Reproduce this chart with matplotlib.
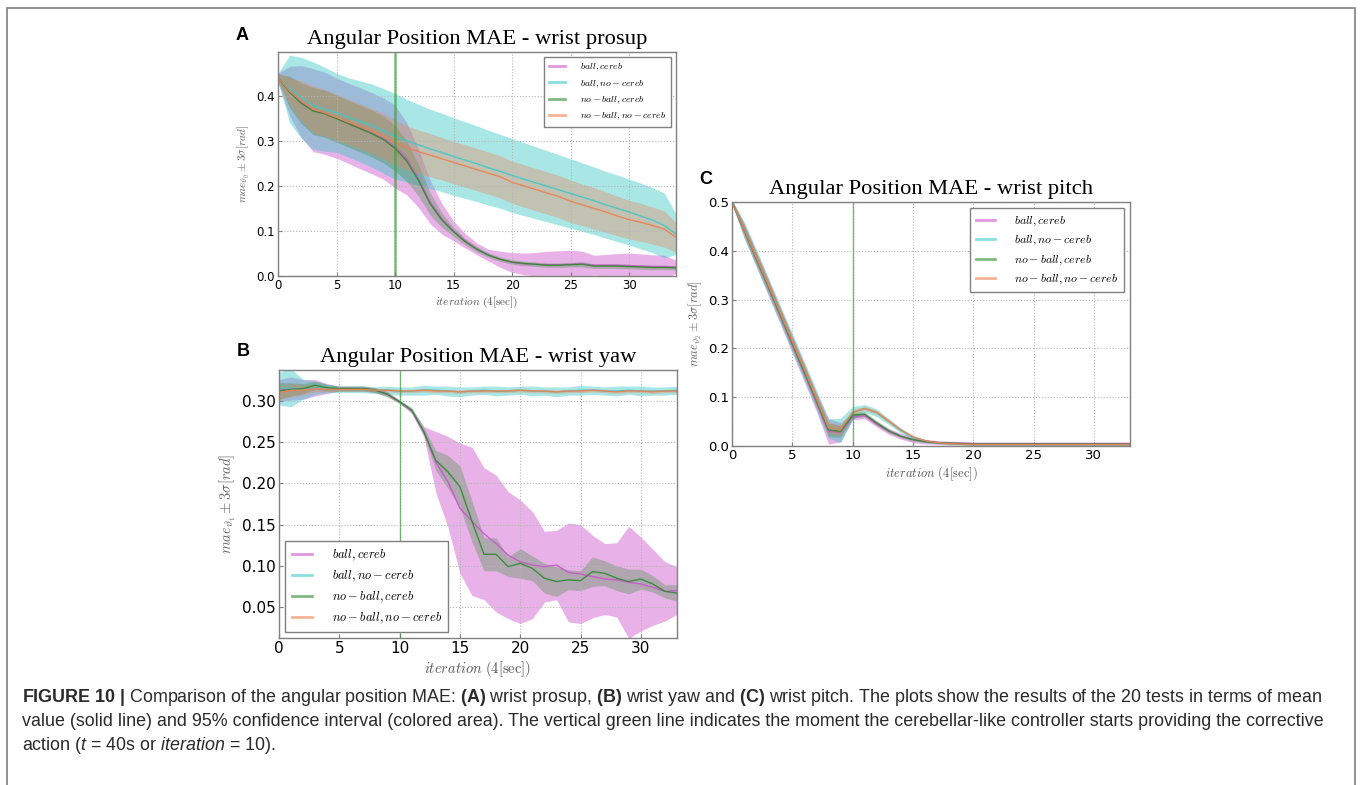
import matplotlib
matplotlib.use("Agg")
import matplotlib.pyplot as plt
from matplotlib.lines import Line2D
from matplotlib.patches import Rectangle

plt.rcParams["mathtext.fontset"] = "cm"
plt.rcParams["mathtext.rm"] = "Liberation Sans"
plt.rcParams["mathtext.it"] = "Liberation Sans:italic"
plt.rcParams["mathtext.bf"] = "Liberation Sans:bold"

labels = [r"$ball, cereb$", r"$ball, no-cereb$", r"$no-ball, cereb$", r"$no-ball, no-cereb$"]
colors = ["#cc55cc", "#40c8c8", "#2e8b2e", "#f08050"]
fill_alpha = [0.45, 0.45, 0.3, 0.35]

# ---- panel A: wrist prosup (iterations 0..34), mean and 3-sigma half width
a_x = list(range(35))
a_ball_cereb = [0.440, 0.410, 0.387, 0.368, 0.361, 0.350, 0.339, 0.328, 0.317, 0.305, 0.287, 0.260,
                0.217, 0.164, 0.127, 0.100, 0.078, 0.060, 0.046, 0.037, 0.030, 0.027, 0.026, 0.025,
                0.025, 0.026, 0.027, 0.024, 0.024, 0.024, 0.023, 0.022, 0.021, 0.021, 0.020]
a_ball_cereb_3s = [0.010, 0.055, 0.080, 0.092, 0.091, 0.089, 0.089, 0.090, 0.090, 0.090, 0.092, 0.080,
                   0.065, 0.048, 0.034, 0.022, 0.016, 0.013, 0.013, 0.018, 0.022, 0.024, 0.026, 0.030,
                   0.031, 0.031, 0.028, 0.022, 0.024, 0.026, 0.028, 0.027, 0.026, 0.025, 0.015]
a_ball_nocereb = [0.440, 0.415, 0.395, 0.378, 0.370, 0.362, 0.352, 0.343, 0.334, 0.322, 0.310, 0.300,
                  0.291, 0.282, 0.274, 0.265, 0.257, 0.249, 0.240, 0.232, 0.223, 0.215, 0.207, 0.199,
                  0.191, 0.183, 0.175, 0.167, 0.158, 0.150, 0.142, 0.133, 0.124, 0.112, 0.093]
a_ball_nocereb_3s = [0.010, 0.075, 0.090, 0.097, 0.093, 0.088, 0.088, 0.090, 0.092, 0.094, 0.095, 0.092,
                     0.090, 0.088, 0.087, 0.086, 0.085, 0.084, 0.083, 0.082, 0.082, 0.081, 0.080, 0.079,
                     0.078, 0.077, 0.076, 0.075, 0.074, 0.074, 0.073, 0.073, 0.072, 0.072, 0.045]
a_noball_cereb = [0.440, 0.408, 0.383, 0.366, 0.360, 0.349, 0.338, 0.327, 0.316, 0.303, 0.283, 0.255,
                  0.212, 0.160, 0.124, 0.098, 0.076, 0.059, 0.046, 0.037, 0.031, 0.028, 0.026, 0.024,
                  0.024, 0.025, 0.026, 0.022, 0.022, 0.022, 0.021, 0.020, 0.019, 0.019, 0.018]
a_noball_cereb_3s = [0.008, 0.035, 0.045, 0.052, 0.052, 0.052, 0.052, 0.052, 0.052, 0.052, 0.050, 0.045,
                     0.035, 0.025, 0.016, 0.010, 0.007, 0.006, 0.005, 0.005, 0.005, 0.005, 0.005, 0.005,
                     0.005, 0.005, 0.006, 0.005, 0.005, 0.005, 0.005, 0.005, 0.005, 0.005, 0.005]
a_noball_nocereb = [0.440, 0.410, 0.388, 0.370, 0.362, 0.352, 0.342, 0.332, 0.322, 0.310, 0.296, 0.285,
                    0.276, 0.268, 0.260, 0.252, 0.244, 0.236, 0.228, 0.220, 0.208, 0.200, 0.192, 0.184,
                    0.176, 0.166, 0.158, 0.150, 0.142, 0.133, 0.125, 0.119, 0.112, 0.104, 0.086]
a_noball_nocereb_3s = [0.010, 0.030, 0.045, 0.052, 0.052, 0.051, 0.050, 0.050, 0.050, 0.050, 0.050, 0.049,
                       0.048, 0.048, 0.047, 0.047, 0.047, 0.047, 0.047, 0.047, 0.047, 0.047, 0.047, 0.047,
                       0.047, 0.047, 0.046, 0.046, 0.045, 0.044, 0.043, 0.042, 0.041, 0.040, 0.033]

# ---- panel B: wrist yaw (iterations 0..33)
b_x = list(range(34))
b_ball_cereb = [0.313, 0.315, 0.314, 0.316, 0.315, 0.315, 0.315, 0.315, 0.313, 0.308, 0.299, 0.288,
                0.263, 0.226, 0.202, 0.170, 0.154, 0.139, 0.127, 0.113, 0.105, 0.101, 0.099, 0.101,
                0.092, 0.090, 0.087, 0.084, 0.083, 0.080, 0.078, 0.074, 0.069, 0.070]
b_ball_cereb_3s = [0.013, 0.014, 0.012, 0.010, 0.006, 0.003, 0.003, 0.003, 0.003, 0.003, 0.002, 0.003,
                   0.006, 0.037, 0.055, 0.079, 0.090, 0.080, 0.083, 0.077, 0.075, 0.065, 0.043, 0.042,
                   0.060, 0.060, 0.050, 0.043, 0.045, 0.068, 0.057, 0.046, 0.036, 0.029]
b_ball_nocereb = [0.315, 0.316, 0.314, 0.316, 0.315, 0.314, 0.314, 0.314, 0.313, 0.313, 0.312, 0.312,
                  0.313, 0.313, 0.312, 0.311, 0.312, 0.313, 0.312, 0.312, 0.313, 0.312, 0.312, 0.311,
                  0.312, 0.313, 0.313, 0.312, 0.312, 0.313, 0.312, 0.312, 0.312, 0.313]
b_ball_nocereb_3s = [0.020, 0.023, 0.012, 0.008, 0.005, 0.004, 0.004, 0.004, 0.004, 0.005, 0.005, 0.005,
                     0.006, 0.005, 0.006, 0.006, 0.005, 0.005, 0.006, 0.005, 0.005, 0.006, 0.005, 0.006,
                     0.005, 0.006, 0.005, 0.005, 0.006, 0.005, 0.006, 0.005, 0.005, 0.005]
b_noball_cereb = [0.312, 0.314, 0.315, 0.319, 0.316, 0.315, 0.315, 0.315, 0.313, 0.308, 0.299, 0.289,
                  0.263, 0.228, 0.214, 0.196, 0.154, 0.114, 0.114, 0.099, 0.103, 0.097, 0.085, 0.081,
                  0.083, 0.082, 0.093, 0.091, 0.085, 0.081, 0.084, 0.078, 0.069, 0.067]
b_noball_cereb_3s = [0.010, 0.008, 0.006, 0.005, 0.004, 0.003, 0.003, 0.003, 0.003, 0.003, 0.002, 0.003,
                     0.005, 0.012, 0.020, 0.025, 0.025, 0.020, 0.020, 0.012, 0.018, 0.015, 0.018, 0.018,
                     0.012, 0.012, 0.018, 0.015, 0.015, 0.015, 0.012, 0.010, 0.008, 0.010]
b_noball_nocereb = [0.310, 0.313, 0.313, 0.315, 0.314, 0.314, 0.314, 0.314, 0.313, 0.313, 0.312, 0.312,
                    0.313, 0.312, 0.312, 0.311, 0.312, 0.312, 0.312, 0.312, 0.313, 0.312, 0.312, 0.311,
                    0.312, 0.312, 0.313, 0.312, 0.311, 0.312, 0.312, 0.311, 0.312, 0.312]
b_noball_nocereb_3s = [0.008, 0.008, 0.006, 0.004, 0.003, 0.002, 0.002, 0.002, 0.002, 0.002, 0.002, 0.002,
                       0.002, 0.002, 0.002, 0.002, 0.002, 0.002, 0.002, 0.002, 0.002, 0.002, 0.002, 0.002,
                       0.002, 0.002, 0.002, 0.002, 0.002, 0.002, 0.002, 0.002, 0.002, 0.002]

# ---- panel C: wrist pitch (iterations 0..33)
c_x = list(range(34))
c_ball_cereb = [0.500, 0.442, 0.384, 0.326, 0.267, 0.208, 0.149, 0.090, 0.030, 0.028, 0.060, 0.062,
                0.045, 0.030, 0.020, 0.013, 0.009, 0.007, 0.006, 0.006, 0.005, 0.005, 0.005, 0.005,
                0.005, 0.005, 0.005, 0.005, 0.005, 0.005, 0.005, 0.005, 0.005, 0.005]
c_ball_cereb_3s = [0.004, 0.015, 0.016, 0.017, 0.017, 0.018, 0.018, 0.019, 0.026, 0.020, 0.006, 0.006,
                   0.006, 0.006, 0.006, 0.006, 0.005, 0.004, 0.004, 0.003, 0.003, 0.003, 0.003, 0.003,
                   0.003, 0.003, 0.003, 0.003, 0.003, 0.003, 0.003, 0.003, 0.003, 0.003]
c_ball_nocereb = [0.500, 0.443, 0.386, 0.328, 0.270, 0.212, 0.154, 0.095, 0.036, 0.032, 0.068, 0.077,
                  0.068, 0.050, 0.032, 0.018, 0.010, 0.007, 0.005, 0.004, 0.003, 0.003, 0.003, 0.003,
                  0.003, 0.003, 0.003, 0.003, 0.003, 0.003, 0.003, 0.003, 0.003, 0.003]
c_ball_nocereb_3s = [0.005, 0.017, 0.018, 0.018, 0.018, 0.019, 0.019, 0.020, 0.020, 0.025, 0.013, 0.008,
                     0.008, 0.006, 0.005, 0.004, 0.003, 0.002, 0.002, 0.002, 0.002, 0.002, 0.002, 0.002,
                     0.002, 0.002, 0.002, 0.002, 0.002, 0.002, 0.002, 0.002, 0.002, 0.002]
c_noball_cereb = [0.500, 0.443, 0.385, 0.327, 0.269, 0.210, 0.152, 0.093, 0.033, 0.030, 0.063, 0.065,
                  0.047, 0.031, 0.020, 0.013, 0.009, 0.007, 0.006, 0.005, 0.004, 0.004, 0.004, 0.004,
                  0.004, 0.004, 0.004, 0.004, 0.004, 0.004, 0.004, 0.004, 0.004, 0.004]
c_noball_cereb_3s = [0.003, 0.010, 0.011, 0.011, 0.011, 0.012, 0.012, 0.012, 0.014, 0.012, 0.006, 0.005,
                     0.005, 0.004, 0.003, 0.003, 0.002, 0.002, 0.002, 0.002, 0.002, 0.002, 0.002, 0.002,
                     0.002, 0.002, 0.002, 0.002, 0.002, 0.002, 0.002, 0.002, 0.002, 0.002]
c_noball_nocereb = [0.500, 0.444, 0.387, 0.330, 0.272, 0.214, 0.156, 0.097, 0.037, 0.033, 0.069, 0.077,
                    0.069, 0.051, 0.033, 0.019, 0.011, 0.007, 0.005, 0.004, 0.003, 0.003, 0.003, 0.003,
                    0.003, 0.003, 0.003, 0.003, 0.003, 0.003, 0.003, 0.003, 0.003, 0.003]
c_noball_nocereb_3s = [0.003, 0.010, 0.011, 0.011, 0.011, 0.012, 0.012, 0.012, 0.012, 0.010, 0.006, 0.004,
                       0.004, 0.004, 0.003, 0.002, 0.002, 0.002, 0.002, 0.002, 0.002, 0.002, 0.002, 0.002,
                       0.002, 0.002, 0.002, 0.002, 0.002, 0.002, 0.002, 0.002, 0.002, 0.002]

W, H = 1360, 785
fig = plt.figure(figsize=(W / 100, H / 100), dpi=100)
fig.patch.set_facecolor("white")

# outer frame of the figure page
fig.add_artist(Rectangle((7 / W, -0.02), 1348 / W, 1 - 8 / H + 0.02, transform=fig.transFigure,
                         fill=False, edgecolor="#8a8a8a", linewidth=1.3))


def panel(rect, x, series, title, letter, letter_xy, ylabel, xlim, ylim, fs, legend_loc, legend_fs,
          vline_lw):
    ax = fig.add_axes(rect)
    for (mean, band), c, a in zip(series, colors, fill_alpha):
        lo = [m - s for m, s in zip(mean, band)]
        hi = [m + s for m, s in zip(mean, band)]
        ax.fill_between(x, lo, hi, color=c, alpha=a, linewidth=0)
        ax.plot(x, mean, color=c, lw=1.0, alpha=0.9)
    ax.axvline(10, color="#3a9a3a", lw=vline_lw, alpha=0.65)
    ax.set_xlim(*xlim)
    ax.set_ylim(*ylim)
    ax.grid(True, color="#b5b5b5", ls=":", lw=0.8)
    for s in ax.spines.values():
        s.set_color("#808080")
        s.set_linewidth(1.0)
    ax.tick_params(labelsize=fs, length=3, direction="in", color="#808080", pad=2)
    ax.set_xlabel(r"$iteration\ (4[\sec])$", fontsize=fs * 0.95, color="#555555", labelpad=2)
    ax.set_ylabel(ylabel, fontsize=fs * 0.95, color="#666666", labelpad=3)
    ax.set_title(title, family="Liberation Serif", fontsize=16.2, pad=6)
    fig.text(letter_xy[0] / W, 1 - letter_xy[1] / H, letter, family="Liberation Sans",
             fontweight="bold", fontsize=13, ha="center", va="center")
    handles = [Line2D([], [], color=c, lw=2, alpha=0.6) for c in colors]
    leg = ax.legend(handles, labels, loc=legend_loc, fontsize=legend_fs, fancybox=False,
                    framealpha=1, edgecolor="#808080", handlelength=1.6, borderpad=0.5,
                    labelspacing=0.45, handletextpad=1.6)
    leg.get_frame().set_linewidth(1.0)
    return ax


panel([278 / W, 1 - 276 / H, 398 / W, 224 / H], a_x,
      [(a_ball_cereb, a_ball_cereb_3s), (a_ball_nocereb, a_ball_nocereb_3s),
       (a_noball_cereb, a_noball_cereb_3s), (a_noball_nocereb, a_noball_nocereb_3s)],
      "Angular Position MAE - wrist prosup", "A", (242, 36),
      r"$mae_{\vartheta_0} \pm 3\sigma[rad]$", (0, 34), (0, 0.497), 8.5, "upper right", 7, 1.8)

panel([279 / W, 1 - 638 / H, 398 / W, 268 / H], b_x,
      [(b_ball_cereb, b_ball_cereb_3s), (b_ball_nocereb, b_ball_nocereb_3s),
       (b_noball_cereb, b_noball_cereb_3s), (b_noball_nocereb, b_noball_nocereb_3s)],
      "Angular Position MAE - wrist yaw", "B", (243, 352),
      r"$mae_{\vartheta_1} \pm 3\sigma[rad]$", (0, 33), (0.0125, 0.3375), 11, "lower left", 9, 1.0)

panel([732 / W, 1 - 446 / H, 398 / W, 244 / H], c_x,
      [(c_ball_cereb, c_ball_cereb_3s), (c_ball_nocereb, c_ball_nocereb_3s),
       (c_noball_cereb, c_noball_cereb_3s), (c_noball_nocereb, c_noball_nocereb_3s)],
      "Angular Position MAE - wrist pitch", "C", (706, 180),
      r"$mae_{\vartheta_2} \pm 3\sigma[rad]$", (0, 33), (0, 0.5), 9.5, "upper right", 8.5, 1.0)

caption = [
    r"$\bf{FIGURE\ 10\ |}$ Comparison of the angular position MAE: $\bf{(A)}$ wrist prosup, "
    r"$\bf{(B)}$ wrist yaw and $\bf{(C)}$ wrist pitch. The plots show the results of the 20 tests in terms of mean",
    "value (solid line) and 95% confidence interval (colored area). The vertical green line indicates "
    "the moment the cerebellar-like controller starts providing the corrective",
    r"action ($\it{t}$ = 40s or $\it{iteration}$ = 10).",
]
for i, line in enumerate(caption):
    fig.text(22 / W, 1 - (697 + 24 * i) / H, line, family="Liberation Sans", fontsize=12.9,
             color="#2b2b2b", ha="left", va="center", math_fontfamily="custom")

fig.savefig("out.png", dpi=100)
